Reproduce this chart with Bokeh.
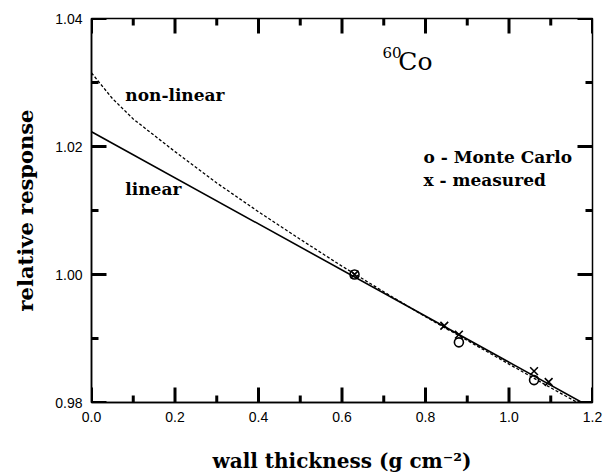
from bokeh.plotting import figure
from bokeh.models import Range1d, FixedTicker, PrintfTickFormatter, ColumnDataSource
from bokeh.core.properties import value
from bokeh.embed import file_html
from bokeh.resources import INLINE

# --- data ---
linear_x = [0.0, 1.2]
linear_y = [1.0223, 0.9791]

nonlinear_x = [0.0, 0.05, 0.1, 0.2, 0.3, 0.4, 0.5, 0.6, 0.7, 0.8, 0.9, 1.0, 1.1, 1.2]
nonlinear_y = [1.0315, 1.0275, 1.0243, 1.0192, 1.0143, 1.0098, 1.0055, 1.0013,
               0.9973, 0.9934, 0.9897, 0.9860, 0.9823, 0.9787]

mc_x = [0.63, 0.88, 1.06]
mc_y = [1.000, 0.9894, 0.9835]

meas_x = [0.63, 0.845, 0.88, 1.06, 1.095]
meas_y = [1.000, 0.9920, 0.9906, 0.9849, 0.9832]

x_major = [0.0, 0.2, 0.4, 0.6, 0.8, 1.0, 1.2]
x_minor = [0.1, 0.3, 0.5, 0.7, 0.9, 1.1]
y_major = [0.98, 1.00, 1.02, 1.04]
y_minor = [0.99, 1.01, 1.03]

X_LO, X_HI = 0.0, 1.2
Y_LO, Y_HI = 0.98, 1.04

SERIF = "DejaVu Serif"
SANS = "Liberation Sans"

W, H = 607, 476
BL, BR, BT, BB = 91, 15, 18, 74
FRAME_W = W - BL - BR
FRAME_H = H - BT - BB

p = figure(width=W, height=H, output_backend="svg", toolbar_location=None,
           x_range=Range1d(X_LO, X_HI), y_range=Range1d(Y_LO, Y_HI),
           min_border_left=BL, min_border_right=BR, min_border_top=BT,
           min_border_bottom=BB, x_axis_label="wall thickness (g cm⁻²)",
           y_axis_label="relative response")
p.grid.visible = False
p.outline_line_color = "black"
p.outline_line_width = 1.5
p.background_fill_color = "white"
p.border_fill_color = "white"

def style_axis(ax, ticks, fmt):
    ax.ticker = FixedTicker(ticks=ticks)
    ax.formatter = PrintfTickFormatter(format=fmt)
    ax.major_tick_in = 0
    ax.major_tick_out = 0
    ax.minor_tick_in = 0
    ax.minor_tick_out = 0
    ax.axis_line_color = "black"
    ax.axis_line_width = 1.5
    ax.major_label_text_font = SANS
    ax.major_label_text_font_size = "14px"
    ax.major_label_text_color = "black"
    ax.axis_label_text_font = SERIF
    ax.axis_label_text_font_style = "bold"
    ax.axis_label_text_font_size = "20px"
    ax.axis_label_text_color = "black"

style_axis(p.xaxis[0], x_major, "%.1f")
style_axis(p.yaxis[0], y_major, "%.2f")
p.xaxis[0].major_label_standoff = 9
p.xaxis[0].axis_label_standoff = 24
p.yaxis[0].major_label_standoff = 9
p.yaxis[0].axis_label_standoff = 14
p.yaxis[0].axis_label_text_font_size = "21px"

# inward tick marks on all four sides, built from the tick arrays
ux = (X_HI - X_LO) / FRAME_W   # data units per pixel, x
uy = (Y_HI - Y_LO) / FRAME_H   # data units per pixel, y
MAJ, MIN = 15, 7

seg_x0, seg_y0, seg_x1, seg_y1 = [], [], [], []
for ticks, length in ((x_major, MAJ), (x_minor, MIN)):
    for t in ticks:
        for base, sign in ((Y_LO, 1), (Y_HI, -1)):
            seg_x0.append(t); seg_x1.append(t)
            seg_y0.append(base); seg_y1.append(base + sign * length * uy)
for ticks, length in ((y_major, MAJ), (y_minor, MIN)):
    for t in ticks:
        for base, sign in ((X_LO, 1), (X_HI, -1)):
            seg_y0.append(t); seg_y1.append(t)
            seg_x0.append(base); seg_x1.append(base + sign * length * ux)

tick_src = ColumnDataSource(dict(x0=seg_x0, y0=seg_y0, x1=seg_x1, y1=seg_y1))
p.segment(x0="x0", y0="y0", x1="x1", y1="y1", source=tick_src,
          line_color="black", line_width=3)

# curves
p.line(nonlinear_x, nonlinear_y, line_color="black", line_width=1.3, line_dash="3 2")
p.line(linear_x, linear_y, line_color="black", line_width=1.6)

# points
p.scatter(mc_x, mc_y, marker="circle", size=9, fill_color=None,
          line_color="black", line_width=1.6)
p.scatter(meas_x, meas_y, marker="x", size=11, line_color="black", line_width=1.6)

# annotations
def label(x, y, t, size, bold=True):
    p.text(x=[x], y=[y], text=[t], text_font=value(SERIF),
           text_font_size=value(size), text_font_style="bold" if bold else "normal",
           text_baseline="middle", text_align="left", text_color="black")

label(0.081, 1.0280, "non-linear", "17px")
label(0.081, 1.0134, "linear", "17px")
label(0.795, 1.0183, "o - Monte Carlo", "17px")
label(0.795, 1.0147, "x - measured", "17px")
label(0.697, 1.0347, "60", "15px", bold=False)
label(0.735, 1.0333, "Co", "25px", bold=False)

open("out.html", "w").write(file_html(p, INLINE))
